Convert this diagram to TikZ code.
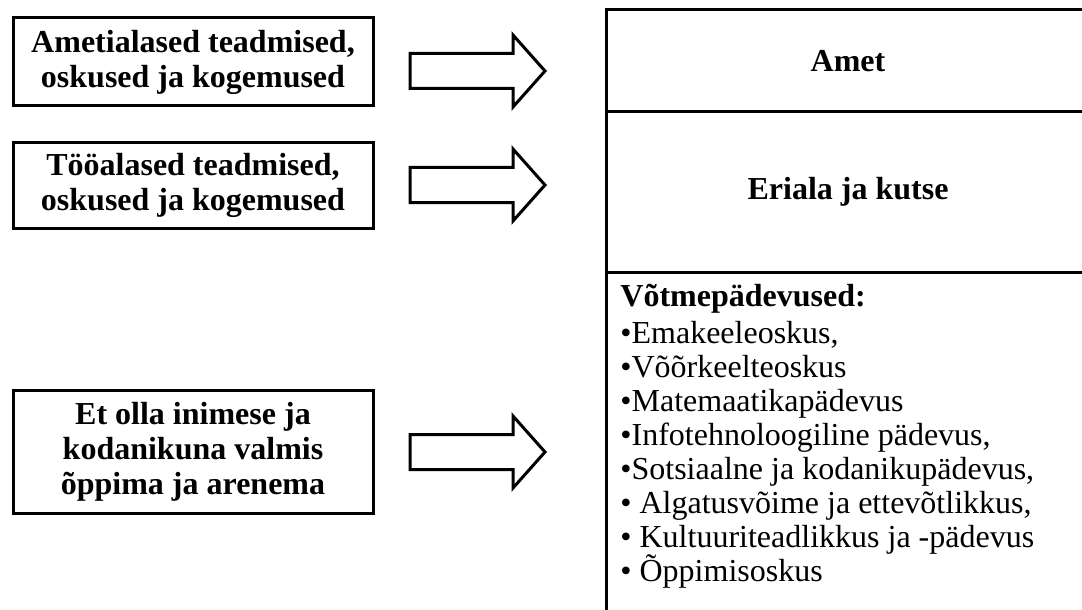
\documentclass[tikz,border=0pt]{standalone}
\usepackage{fontspec}
\setmainfont{Liberation Serif}
\usetikzlibrary{positioning}

\tikzset{
	leftbox/.style = {draw, line width = 1.5pt, minimum width = 180pt, align = center, inner sep = 2pt,
		font = \bfseries\fontsize{16}{17.5}\selectfont},
	cell/.style = {draw, line width = 1.5pt, outer sep = 0pt, minimum width = 242pt,
		font = \bfseries\fontsize{16}{17.5}\selectfont},
	listline/.style = {anchor = base west, inner sep = 0pt, font = \fontsize{16}{17}\selectfont},
	blockarrow/.style = {draw, line width = 1.5pt, fill = white}
}

\begin{document}
\begin{tikzpicture}[x = 0.5pt, y = -0.5pt]
		\useasboundingbox (0,0) rectangle (1082,610);
		\clip (0,0) rectangle (1082,610);

		\node [leftbox, minimum height = 44pt] (ametialased) at (193,62) {Ametialased teadmised,\\oskused ja kogemused};
		\node [leftbox, minimum height = 42.5pt] (tooalased) at (193,185.5) {Tööalased teadmised,\\oskused ja kogemused};
		\node [leftbox, minimum height = 61.5pt] (kodanik) at (193,451.5) {Et olla inimese ja\\kodanikuna valmis\\õppima ja arenema};

		\node [cell, minimum height = 51pt, anchor = north west] (amet) at (606,10) {Amet};
		\node [cell, minimum height = 80pt, below = 0pt of amet] (eriala) {Eriala ja kutse};
		\node [cell, minimum height = 189pt, below = 0pt of eriala] (votme) {};

		\foreach \y in {71,185,452}
			\draw [blockarrow] (410,\y-17.5) -- (513,\y-17.5) -- (513,\y-36) -- (545,\y)
				-- (513,\y+36) -- (513,\y+17.5) -- (410,\y+17.5) -- cycle;

		\node [listline, font = \bfseries\fontsize{16}{17}\selectfont] (pealkiri) at (620,306) {Võtmepädevused:};
		\foreach \txt [count = \i, evaluate = \i as \yy using 309+34*\i] in
			{{•Emakeeleoskus,}, {•Võõrkeelteoskus}, {•Matemaatikapädevus}, {•Infotehnoloogiline pädevus,},
			 {•Sotsiaalne ja kodanikupädevus,}, {• Algatusvõime ja ettevõtlikkus,},
			 {• Kultuuriteadlikkus ja -pädevus}, {• Õppimisoskus}}
			\node [listline] (item\i) at (620,\yy) {\txt};
	\end{tikzpicture}
\end{document}
